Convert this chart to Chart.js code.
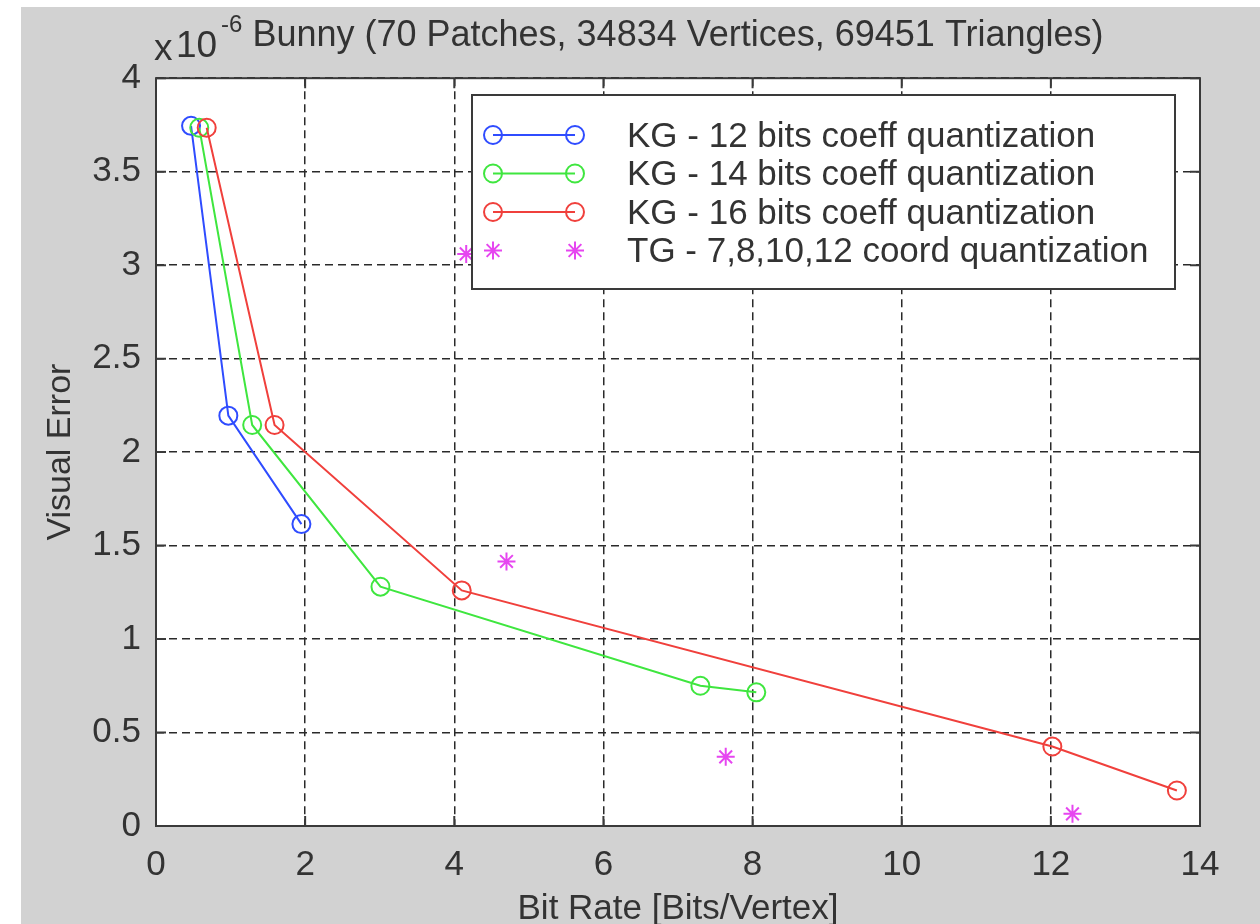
<!DOCTYPE html>
<html>
<head>
<meta charset="utf-8">
<title>Bunny - Visual Error vs Bit Rate</title>
<script src="https://cdn.jsdelivr.net/npm/chart.js@4.4.1/dist/chart.umd.min.js"></script>
<style>
  body { margin: 0; background: #fff; }
  canvas { display: block; }
</style>
</head>
<body>
<canvas id="chart" width="1260" height="924"></canvas>
<script>
// values (y in units of 1e-6)
const kg12Rate = [0.47, 0.97, 1.95];
const kg12Err  = [3.745, 2.195, 1.615];
const kg14Rate = [0.58, 1.29, 3.01, 7.30, 8.05];
const kg14Err  = [3.735, 2.145, 1.28, 0.75, 0.715];
const kg16Rate = [0.68, 1.59, 4.10, 12.02, 13.69];
const kg16Err  = [3.735, 2.145, 1.26, 0.425, 0.19];
const tgRate   = [4.16, 4.70, 7.64, 12.29];
const tgErr    = [3.06, 1.415, 0.37, 0.065];

const seriesLabels = [
    'KG - 12 bits coeff quantization',
    'KG - 14 bits coeff quantization',
    'KG - 16 bits coeff quantization',
    'TG - 7,8,10,12 coord quantization'
];
const xTicks = [0, 2, 4, 6, 8, 10, 12, 14];
const yTicks = [0, 0.5, 1, 1.5, 2, 2.5, 3, 3.5, 4];

const FONT = '"Liberation Sans", Arial, Helvetica, sans-serif';
const TEXT = '#333333';

function pts(xs, ys) {
    return xs.map((x, i) => ({ x: x, y: ys[i] }));
}

function kgSet(label, xs, ys, color, order) {
    return {
        label: label,
        data: pts(xs, ys),
        showLine: true,
        borderColor: color,
        borderWidth: 2,
        pointStyle: 'circle',
        pointRadius: 9,
        pointBorderWidth: 2,
        pointBorderColor: color,
        pointBackgroundColor: 'rgba(0,0,0,0)',
        order: order
    };
}

function drawMarker(ctx, style, x, y, color) {
    ctx.save();
    ctx.strokeStyle = color;
    ctx.lineWidth = 2;
    ctx.beginPath();
    if (style === 'star') {
        const r = 9, d = r * Math.SQRT1_2;
        ctx.moveTo(x - r, y); ctx.lineTo(x + r, y);
        ctx.moveTo(x, y - r); ctx.lineTo(x, y + r);
        ctx.moveTo(x - d, y - d); ctx.lineTo(x + d, y + d);
        ctx.moveTo(x - d, y + d); ctx.lineTo(x + d, y - d);
    } else {
        ctx.arc(x, y, 9, 0, Math.PI * 2);
    }
    ctx.stroke();
    ctx.restore();
}

// grey figure background, white axes
const backdrop = {
    id: 'backdrop',
    beforeDraw(chart) {
        const ctx = chart.ctx, a = chart.chartArea;
        ctx.save();
        ctx.fillStyle = '#ffffff';
        ctx.fillRect(0, 0, chart.width, chart.height);
        ctx.fillStyle = '#d2d2d2';
        ctx.fillRect(21, 7, chart.width - 21, chart.height - 7);
        ctx.fillStyle = '#ffffff';
        ctx.fillRect(a.left, a.top, a.right - a.left, a.bottom - a.top);
        ctx.restore();
    }
};

// box around the axes, inward ticks, exponent, legend inside the axes
const axesBox = {
    id: 'axesBox',
    afterDraw(chart) {
        const ctx = chart.ctx, a = chart.chartArea;
        const xs = chart.scales.x, ys = chart.scales.y;
        ctx.save();
        ctx.strokeStyle = '#3a3a3a';
        ctx.lineWidth = 2;
        ctx.beginPath();
        xs.ticks.forEach(t => {
            const px = xs.getPixelForValue(t.value);
            ctx.moveTo(px, a.bottom); ctx.lineTo(px, a.bottom - 10);
            ctx.moveTo(px, a.top); ctx.lineTo(px, a.top + 10);
        });
        ys.ticks.forEach(t => {
            const py = ys.getPixelForValue(t.value);
            ctx.moveTo(a.left, py); ctx.lineTo(a.left + 10, py);
            ctx.moveTo(a.right, py); ctx.lineTo(a.right - 10, py);
        });
        ctx.stroke();
        ctx.strokeRect(a.left, a.top, a.right - a.left, a.bottom - a.top);

        // x 10^-6
        ctx.fillStyle = TEXT;
        ctx.textBaseline = 'middle';
        ctx.textAlign = 'left';
        ctx.font = '37px ' + FONT;
        ctx.fillText('x', 154, 50);
        ctx.fillText('10', 176, 47);
        ctx.font = '24px ' + FONT;
        ctx.fillText('-6', 221, 25);

        // legend
        const lx = 472, ly = 95, lw = 703, lh = 194;
        ctx.fillStyle = '#ffffff';
        ctx.fillRect(lx, ly, lw, lh);
        ctx.strokeStyle = '#3a3a3a';
        ctx.lineWidth = 2;
        ctx.strokeRect(lx, ly, lw, lh);
        chart.data.datasets.forEach((ds, i) => {
            const y = 135 + i * 38.5;
            const style = ds.pointStyle;
            if (ds.showLine) {
                ctx.save();
                ctx.strokeStyle = ds.borderColor;
                ctx.lineWidth = 2;
                ctx.beginPath();
                ctx.moveTo(493, y); ctx.lineTo(575, y);
                ctx.stroke();
                ctx.restore();
            }
            drawMarker(ctx, style, 493, y, ds.pointBorderColor);
            drawMarker(ctx, style, 575, y, ds.pointBorderColor);
            ctx.fillStyle = TEXT;
            ctx.font = '35px ' + FONT;
            ctx.textAlign = 'left';
            ctx.textBaseline = 'middle';
            ctx.fillText(ds.label, 627, y + 2);
        });
        ctx.restore();
    }
};

const datasets = [
    kgSet(seriesLabels[0], kg12Rate, kg12Err, '#2f4cff', 4),
    kgSet(seriesLabels[1], kg14Rate, kg14Err, '#3fe63f', 3),
    kgSet(seriesLabels[2], kg16Rate, kg16Err, '#f0403c', 2),
    {
        label: seriesLabels[3],
        data: pts(tgRate, tgErr),
        showLine: false,
        pointStyle: 'star',
        pointRadius: 9,
        pointBorderWidth: 2,
        pointBorderColor: '#e646f0',
        borderColor: '#e646f0',
        order: 1
    }
];

const gridOpts = { color: '#2a2a2a', lineWidth: 1.5, drawTicks: false };

new Chart(document.getElementById('chart'), {
    type: 'scatter',
    data: { datasets: datasets },
    options: {
        responsive: false,
        animation: false,
        layout: { padding: { left: 0, right: 60, top: 0, bottom: 0 } },
        plugins: {
            legend: { display: false },
            tooltip: { enabled: false },
            title: {
                display: true,
                fullSize: false,
                text: 'Bunny (70 Patches, 34834 Vertices, 69451 Triangles)',
                color: TEXT,
                font: { family: FONT, size: 36, weight: 'normal', lineHeight: 1.2 },
                padding: { top: 14, bottom: 21 }
            }
        },
        scales: {
            x: {
                type: 'linear',
                min: xTicks[0],
                max: xTicks[xTicks.length - 1],
                afterBuildTicks: s => { s.ticks = xTicks.map(v => ({ value: v })); },
                afterFit: s => { s.height = 98; },
                grid: gridOpts,
                border: { display: false, dash: [8, 5] },
                ticks: {
                    color: TEXT,
                    padding: 18,
                    maxRotation: 0,
                    font: { family: FONT, size: 35 },
                    callback: v => String(v)
                },
                title: {
                    display: true,
                    text: 'Bit Rate [Bits/Vertex]',
                    color: TEXT,
                    font: { family: FONT, size: 35, lineHeight: 0.85 },
                    padding: { top: 0, bottom: 0 }
                }
            },
            y: {
                type: 'linear',
                min: yTicks[0],
                max: yTicks[yTicks.length - 1],
                afterBuildTicks: s => { s.ticks = yTicks.map(v => ({ value: v })); },
                afterFit: s => { s.width = 156; },
                grid: gridOpts,
                border: { display: false, dash: [8, 5] },
                ticks: {
                    color: TEXT,
                    padding: 15,
                    font: { family: FONT, size: 35 },
                    callback: v => String(v)
                },
                title: {
                    display: true,
                    text: 'Visual Error',
                    color: TEXT,
                    font: { family: FONT, size: 34, lineHeight: 1 },
                    padding: { top: 44, bottom: 0 }
                }
            }
        }
    },
    plugins: [backdrop, axesBox]
});
</script>
</body>
</html>
